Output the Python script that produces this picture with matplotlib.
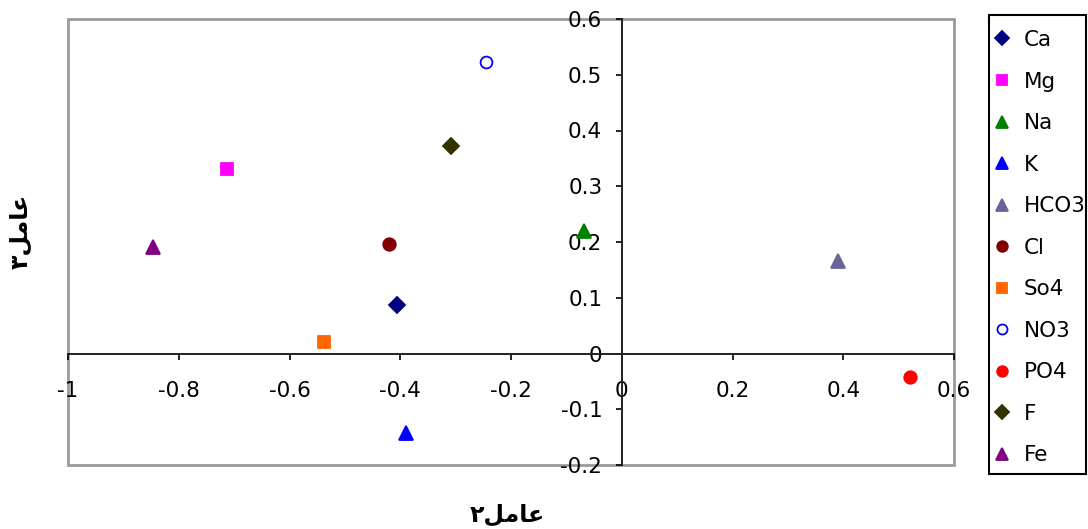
import matplotlib.pyplot as plt
from matplotlib.patches import Rectangle
from matplotlib.ticker import FuncFormatter, MultipleLocator

# factor loadings
names = ['Ca', 'Mg', 'Na', 'K', 'HCO3', 'Cl', 'So4', 'NO3', 'PO4', 'F', 'Fe']
factor2 = [-0.405, -0.712, -0.068, -0.389, 0.391, -0.42, -0.537, -0.245, 0.521, -0.308, -0.847]
factor3 = [0.087, 0.331, 0.22, -0.142, 0.166, 0.197, 0.021, 0.523, -0.042, 0.372, 0.191]

colors = ['#000080', '#FF00FF', '#008000', '#0000FF', '#666699', '#800000',
          '#FF6600', '#0000FF', '#FF0000', '#333300', '#800080']
markers = ['D', 's', '^', '^', '^', 'o', 's', 'o', 'o', 'D', '^']
sizes = [8.5, 8.5, 10, 10, 10, 9, 8.5, 8.5, 9, 8.5, 10]
hollow = ['NO3']

# Persian labels "عامل۲" / "عامل۳" written in shaped (presentation) forms, visual order
xlab = '\u06F2\uFEDE\uFEE3\uFE8E\uFECB'
ylab = '\u06F3\uFEDE\uFEE3\uFE8E\uFECB'

plt.rcParams['font.family'] = ['DejaVu Sans']
fs = 15.5

fig = plt.figure(figsize=(10.88, 5.29), dpi=100)
W, H = 1088, 529
ax = fig.add_axes([68 / W, 1 - 465 / H, (954 - 68) / W, (465 - 19) / H])

for n, x, y, c, m, s in zip(names, factor2, factor3, colors, markers, sizes):
    face = 'white' if n in hollow else c
    ax.plot([x], [y], linestyle='none', marker=m, markersize=s,
            markerfacecolor=face, markeredgecolor=c, markeredgewidth=1.3, label=n)

ax.set_xlim(-1, 0.6)
ax.set_ylim(-0.2, 0.6)

# axes crossing at zero, grey outer frame
for side in ['top', 'right']:
    ax.spines[side].set_visible(False)
for side in ['left', 'bottom']:
    ax.spines[side].set_position(('data', 0))
    ax.spines[side].set_color('#222222')
    ax.spines[side].set_linewidth(1.4)
ax.add_patch(Rectangle((0, 0), 1, 1, transform=ax.transAxes, fill=False,
                       edgecolor='#9a9a9a', linewidth=2, clip_on=False, zorder=0))

ax.xaxis.set_major_locator(MultipleLocator(0.2))
ax.yaxis.set_major_locator(MultipleLocator(0.1))
fmt = FuncFormatter(lambda v, p: '%g' % round(v, 2))
ax.xaxis.set_major_formatter(fmt)
ax.yaxis.set_major_formatter(fmt)
ax.tick_params(axis='x', direction='out', length=4, width=1.2, pad=16, labelsize=fs)
ax.tick_params(axis='y', direction='out', length=4, width=1.2, pad=10, labelsize=fs)

fig.text(507 / W, 1 - 515 / H, xlab, ha='center', va='center', fontsize=17,
         fontweight='bold')
fig.text(20 / W, 1 - 231 / H, ylab, ha='center', va='center', fontsize=17,
         fontweight='bold', rotation=90)

# legend: entries without frame, frame drawn as its own box
leg = ax.legend(loc='upper left', bbox_to_anchor=(996.5 / W, 1 - 30 / H),
                bbox_transform=fig.transFigure, frameon=False,
                fontsize=fs, labelspacing=1.0, handlelength=0.5, handletextpad=0.77,
                borderpad=0, borderaxespad=0, markerscale=0.85)
fig.patches.append(Rectangle((989 / W, 1 - 474 / H), (1086 - 989) / W, (474 - 15) / H,
                             transform=fig.transFigure, fill=False,
                             edgecolor='black', linewidth=1.5))

fig.savefig('out.png', dpi=100, facecolor='white')
